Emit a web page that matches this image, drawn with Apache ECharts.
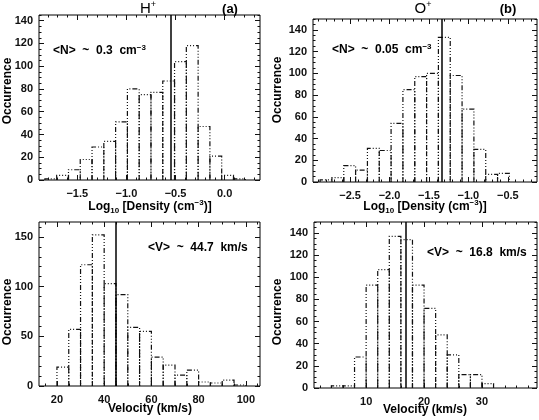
<!DOCTYPE html>
<html><head><meta charset="utf-8">
<script src="https://cdn.jsdelivr.net/npm/echarts@6/dist/echarts.min.js"></script>
<style>html,body{margin:0;padding:0;background:#fff}#c{width:539px;height:420px}</style>
</head><body><div id="c"></div>
<script>
// ---------- DATA ----------
// (a) H+ density histogram (log10 cm^-3)
const aEdges = [-1.83,-1.71,-1.59,-1.47,-1.35,-1.23,-1.11,-0.99,-0.87,-0.75,-0.63,-0.51,-0.39,-0.27,-0.15,-0.03,0.09,0.21];
const aCounts = [1,4,9,18,29,34,51,80,75,77,87,104,118,47,21,4,1];
const aMean = -0.55;
const aXTicks = [-1.5,-1.0,-0.5,0.0];
const aYTicks = [0,20,40,60,80,100,120,140];
// (b) O+ density histogram (log10 cm^-3)
const bEdges = [-2.88,-2.73,-2.58,-2.43,-2.28,-2.13,-1.98,-1.83,-1.68,-1.53,-1.38,-1.23,-1.08,-0.93,-0.78,-0.63,-0.48];
const bCounts = [2,4,15,11,31,29,54,85,97,100,133,98,67,30,7,8];
const bMean = -1.34;
const bXTicks = [-2.5,-2.0,-1.5,-1.0,-0.5];
const bYTicks = [0,20,40,60,80,100,120,140];
// (c) H+ velocity histogram (km/s)
const cEdges = [20,25,30,35,40,45,50,55,60,65,70,75,80,85,90,95,100];
const cCounts = [19,57,122,152,103,92,59,55,29,21,11,16,4,3,6,1];
const cMean = 44.7;
const cXTicks = [20,40,60,80,100];
const cYTicks = [0,50,100,150];
// (d) O+ velocity histogram (km/s)
const dEdges = [4,6,8,10,12,14,16,18,20,22,24,26,28,30,32];
const dCounts = [2,2,28,93,107,137,134,93,72,48,30,12,12,4];
const dMean = 16.8;
const dXTicks = [10,20,30];
const dYTicks = [0,20,40,60,80,100,120,140];

// ---------- LAYOUT ----------
const FONT = "'Liberation Sans', Arial, Helvetica, sans-serif";
const INK = '#111';
const panels = [
  {edges:aEdges, counts:aCounts, mean:aMean, xt:aXTicks, yt:aYTicks, xMin:-1.89, xMax:0.36, yMax:145, xMinor:0.1, yMinor:5, dec:1,
   grid:{left:39, top:15, width:221, height:165}},
  {edges:bEdges, counts:bCounts, mean:bMean, xt:bXTicks, yt:bYTicks, xMin:-2.97, xMax:-0.13, yMax:150, xMinor:0.1, yMinor:5, dec:1,
   grid:{left:313, top:19, width:224, height:163}},
  {edges:cEdges, counts:cCounts, mean:cMean, xt:cXTicks, yt:cYTicks, xMin:12.4, xMax:106, yMax:165, xMinor:5, yMinor:10, dec:0,
   grid:{left:39, top:222, width:221, height:164}},
  {edges:dEdges, counts:dCounts, mean:dMean, xt:dXTicks, yt:dYTicks, xMin:1, xMax:39.5, yMax:150, xMinor:2, yMinor:5, dec:0,
   grid:{left:314, top:222, width:223, height:166}}
];

function minorList(min, max, step, majors) {
  const out = [];
  const start = Math.ceil(min / step - 1e-9);
  const end = Math.floor(max / step + 1e-9);
  for (let k = start; k <= end; k++) {
    const v = +(k * step).toFixed(6);
    if (!majors.some(m => Math.abs(m - v) < 1e-6)) out.push(v);
  }
  return out;
}
function fmt(dec) {
  return v => (dec ? Number(v).toFixed(dec) : String(Math.round(v))).replace('-', '\u2212');
}
const labelStyle = {color: INK, fontSize: 11, fontWeight: 'bold', fontFamily: FONT};

const grids = [], xAxes = [], yAxes = [], series = [];
panels.forEach((p, i) => {
  grids.push(Object.assign({show:true, borderColor:'#000', borderWidth:1, containLabel:false, outerBoundsMode:'none'}, p.grid));
  const xMinors = minorList(p.xMin, p.xMax, p.xMinor, p.xt);
  const yMinors = minorList(0, p.yMax, p.yMinor, p.yt);
  const common = {type:'value', gridIndex:i, splitLine:{show:false}, axisLine:{show:false, onZero:false}};
  ['bottom','top'].forEach(pos => {
    xAxes.push(Object.assign({}, common, {min:p.xMin, max:p.xMax, position:pos,
      axisTick:{show:true, inside:true, length:5, customValues:p.xt, lineStyle:{color:INK, width:1}},
      axisLabel: pos === 'bottom' ? Object.assign({show:true, customValues:p.xt, formatter:fmt(p.dec), margin:8}, labelStyle) : {show:false}}));
    xAxes.push(Object.assign({}, common, {min:p.xMin, max:p.xMax, position:pos,
      axisTick:{show:true, inside:true, length:2.5, customValues:xMinors, lineStyle:{color:INK, width:1}},
      axisLabel:{show:false}}));
  });
  ['left','right'].forEach(pos => {
    yAxes.push(Object.assign({}, common, {min:0, max:p.yMax, position:pos,
      axisTick:{show:true, inside:true, length:5, customValues:p.yt, lineStyle:{color:INK, width:1}},
      axisLabel: pos === 'left' ? Object.assign({show:true, customValues:p.yt, formatter:fmt(0), margin:6}, labelStyle) : {show:false}}));
    yAxes.push(Object.assign({}, common, {min:0, max:p.yMax, position:pos,
      axisTick:{show:true, inside:true, length:2.5, customValues:yMinors, lineStyle:{color:INK, width:1}},
      axisLabel:{show:false}}));
  });
  const bins = p.counts.map((c, k) => [p.edges[k], p.edges[k + 1], c]);
  series.push({
    type:'custom', xAxisIndex:4 * i, yAxisIndex:4 * i, data:bins, encode:{x:[0,1], y:2},
    clip:true, silent:true,
    renderItem: function (params, api) {
      const l = api.value(0), r = api.value(1), v = api.value(2);
      return {type:'polyline', shape:{points:[api.coord([l,0]), api.coord([l,v]), api.coord([r,v]), api.coord([r,0])]},
        style:{stroke:INK, fill:'none', lineWidth:1.2, lineDash:[5,2,1,2,1,2,1,2]}};
    },
    markLine:{silent:true, symbol:['none','none'], label:{show:false}, animation:false,
      lineStyle:{type:'solid', color:'#000', width:1.5}, data:[{xAxis:p.mean}]}
  });
});

// ---------- TEXT ----------
const rich = {
  n:{fontSize:12, fontFamily:FONT, fontWeight:'bold', color:INK, lineHeight:16},
  s:{fontSize:8, fontFamily:FONT, fontWeight:'bold', color:INK, lineHeight:8, verticalAlign:'bottom'},
  u:{fontSize:8, fontFamily:FONT, fontWeight:'bold', color:INK, lineHeight:8, verticalAlign:'top'},
  t:{fontSize:15, fontFamily:FONT, color:INK, lineHeight:18},
  tu:{fontSize:9, fontFamily:FONT, color:INK, lineHeight:9, verticalAlign:'top'},
  b:{fontSize:13, fontFamily:FONT, fontWeight:'bold', color:INK, lineHeight:16},
  m:{fontSize:12, fontFamily:FONT, fontWeight:'bold', color:INK, lineHeight:15},
  mu:{fontSize:8, fontFamily:FONT, fontWeight:'bold', color:INK, lineHeight:8, verticalAlign:'top'}
};
function txt(x, y, text, align, rot) {
  return {type:'text', x:x, y:y, rotation:rot || 0, silent:true,
    style:{text:text, rich:rich, align:align || 'center', verticalAlign:'middle'}};
}
const densName = '{n|Log}{s|10}{n| [Density (cm}{u|\u22123}{n|)]}';
const velName = '{n|Velocity (km/s)}';
const occ = '{n|Occurrence}';
const graphic = [
  txt(148, 9, '{t|H}{tu|+}'), txt(230, 9, '{b|(a)}'),
  txt(423, 9, '{t|O}{tu|+}'), txt(508, 9, '{b|(b)}'),
  txt(53, 51, '{m|<N>  ~  0.3  cm}{mu|\u22123}', 'left'),
  txt(332, 50, '{m|<N>  ~  0.05  cm}{mu|\u22123}', 'left'),
  txt(148, 248, '{m|<V>  ~  44.7  km/s}', 'left'),
  txt(427, 253, '{m|<V>  ~  16.8  km/s}', 'left'),
  txt(150, 207, densName), txt(425, 207, densName),
  txt(150, 409, velName), txt(425, 410, velName),
  txt(8, 91, occ, 'center', Math.PI / 2), txt(278, 90, occ, 'center', Math.PI / 2),
  txt(8, 312, occ, 'center', Math.PI / 2), txt(278, 312, occ, 'center', Math.PI / 2)
];

const chart = echarts.init(document.getElementById('c'), null, {renderer:'canvas'});
chart.setOption({
  animation:false, backgroundColor:'#fff',
  grid:grids, xAxis:xAxes, yAxis:yAxes, series:series, graphic:graphic
});
</script></body></html>
